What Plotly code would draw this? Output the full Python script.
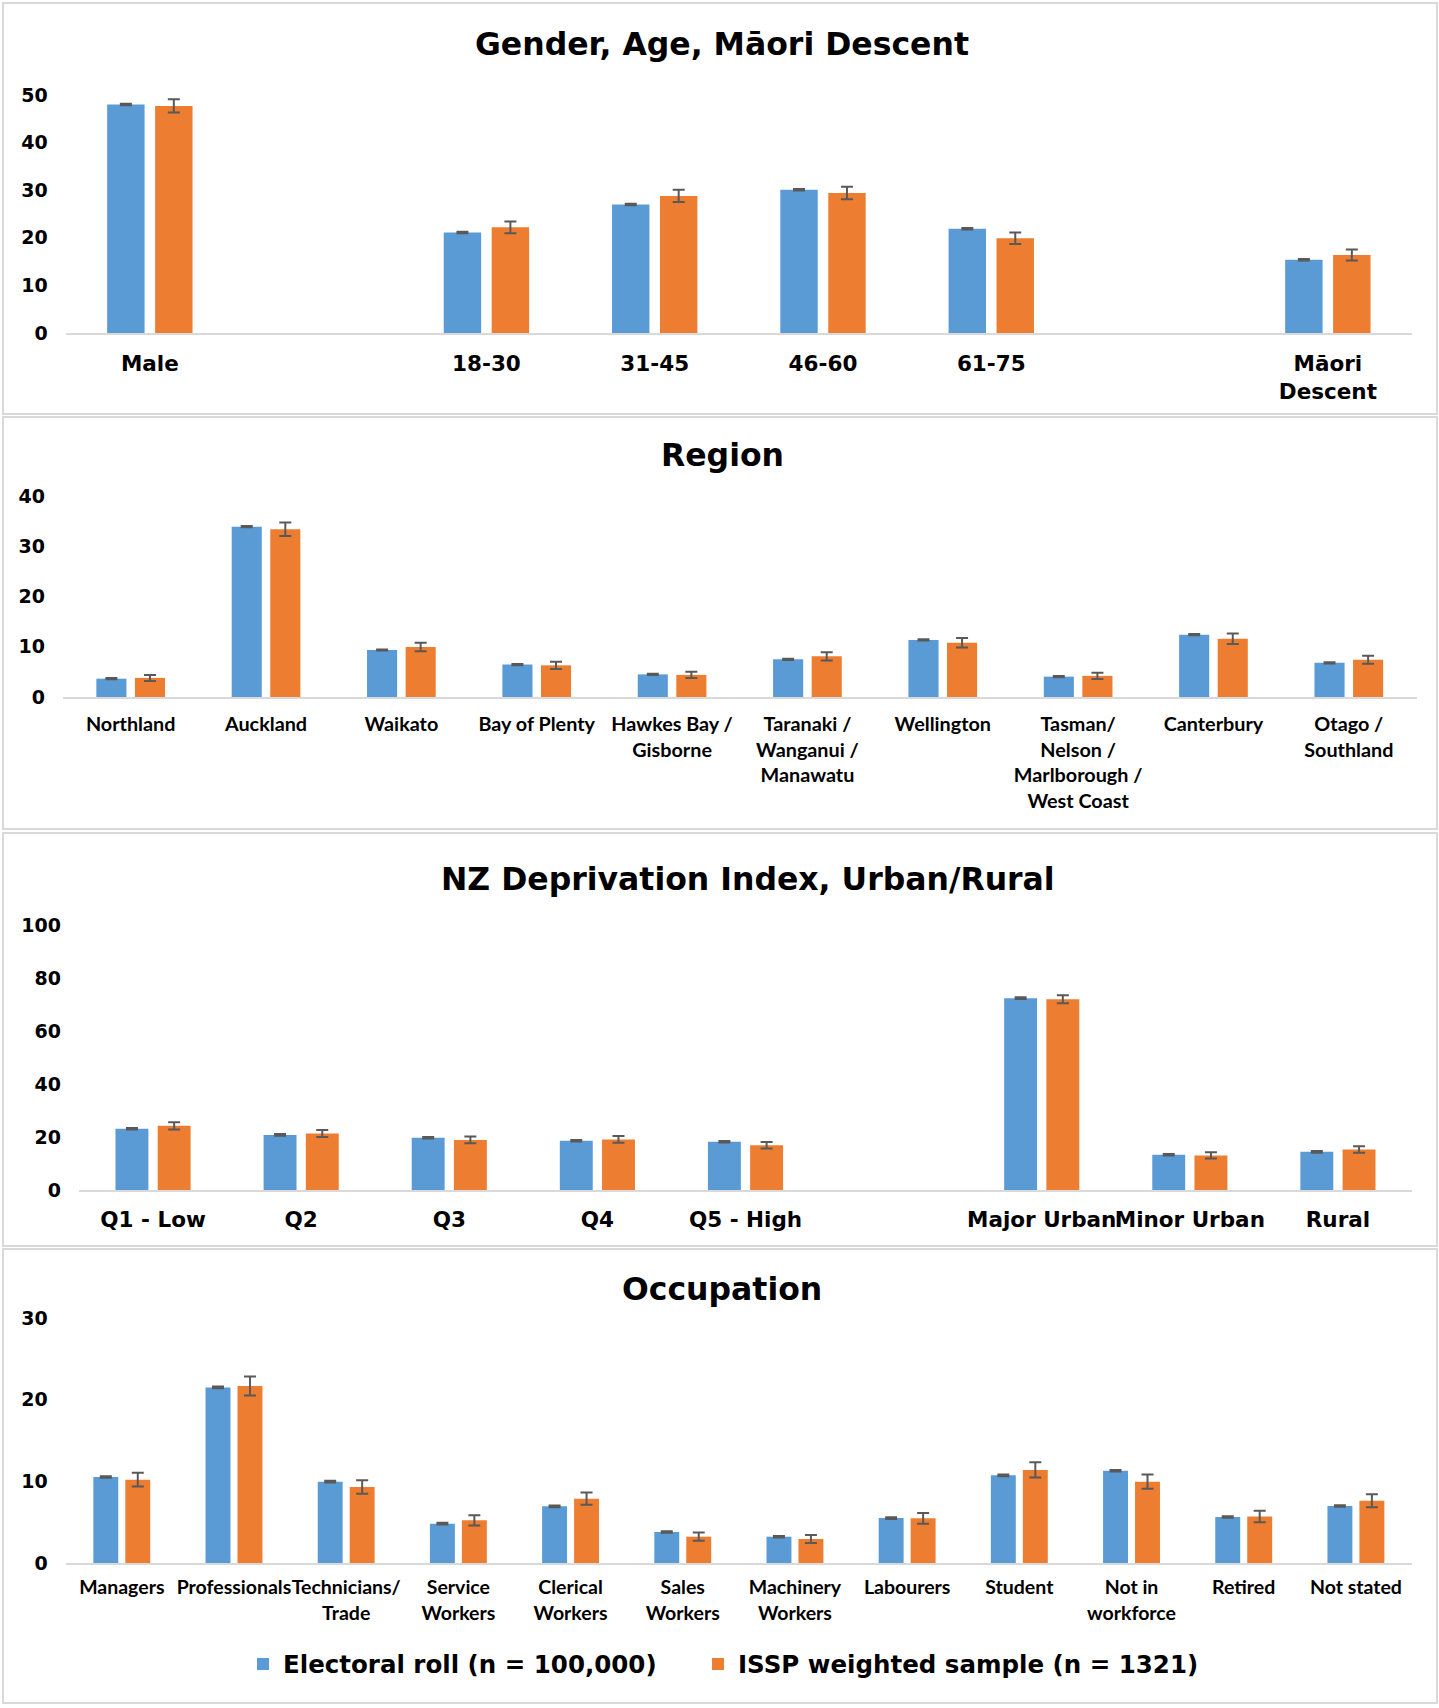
import plotly.graph_objects as go

BLUE = "#5B9BD5"
ORANGE = "#ED7D31"
ERR = "#595959"

# ---------------- data ----------------
p1_cats = ["Male", " ", "18-30", "31-45", "46-60", "61-75", "  ", "Māori<br>Descent"]
p1_roll = [48.0, None, 21.1, 27.0, 30.1, 21.9, None, 15.4]
p1_roll_err = [0.15, None, 0.15, 0.15, 0.15, 0.15, None, 0.15]
p1_issp = [47.7, None, 22.2, 28.8, 29.4, 19.9, None, 16.4]
p1_issp_err = [1.4, None, 1.25, 1.3, 1.3, 1.2, None, 1.15]

p2_cats = ["Northland", "Auckland", "Waikato", "Bay of Plenty", "Hawkes Bay /<br>Gisborne",
           "Taranaki /<br>Wanganui /<br>Manawatu", "Wellington",
           "Tasman/<br>Nelson /<br>Marlborough /<br>West Coast", "Canterbury", "Otago /<br>Southland"]
p2_roll = [3.65, 33.9, 9.35, 6.45, 4.5, 7.5, 11.35, 4.05, 12.4, 6.8]
p2_roll_err = [0.12] * 10
p2_issp = [3.8, 33.4, 9.95, 6.3, 4.4, 8.1, 10.8, 4.2, 11.6, 7.4]
p2_issp_err = [0.6, 1.35, 0.85, 0.73, 0.63, 0.83, 0.96, 0.63, 1.03, 0.8]

p3_cats = ["Q1 - Low", "Q2", "Q3", "Q4", "Q5 - High", " ", "Major Urban", "Minor Urban", "Rural"]
p3_roll = [23.1, 20.8, 19.7, 18.6, 18.2, None, 72.4, 13.3, 14.4]
p3_roll_err = [0.3, 0.3, 0.3, 0.3, 0.3, None, 0.3, 0.3, 0.3]
p3_issp = [24.2, 21.3, 18.9, 19.1, 16.9, None, 72.0, 13.05, 15.3]
p3_issp_err = [1.4, 1.3, 1.3, 1.3, 1.25, None, 1.5, 1.2, 1.25]

p4_cats = ["Managers", "Professionals", "Technicians/<br>Trade", "Service<br>Workers",
           "Clerical<br>Workers", "Sales<br>Workers", "Machinery<br>Workers", "Labourers",
           "Student", "Not in<br>workforce", "Retired", "Not stated"]
p4_roll = [10.53, 21.5, 9.96, 4.82, 6.94, 3.8, 3.22, 5.5, 10.73, 11.3, 5.63, 6.98]
p4_roll_err = [0.1] * 12
p4_issp = [10.2, 21.67, 9.3, 5.22, 7.88, 3.22, 2.94, 5.47, 11.4, 9.96, 5.7, 7.63]
p4_issp_err = [0.84, 1.16, 0.82, 0.63, 0.76, 0.5, 0.5, 0.65, 0.94, 0.88, 0.7, 0.8]

series_names = ["Electoral roll (n = 100,000)", "ISSP weighted sample (n = 1321)"]
legend_widths = [410, 500]
titles = ["Gender, Age, Māori Descent", "Region", "NZ Deprivation Index, Urban/Rural", "Occupation"]

# ---------------- layout geometry (pixels) ----------------
W, H = 1439, 1708
panels = [
    dict(cats=p1_cats, roll=p1_roll, rerr=p1_roll_err, issp=p1_issp, ierr=p1_issp_err,
         yr=[0, 50], dt=10, ypx=(333, 95), xpx=(65.7, 1412), font="DejaVu Sans", fs=21.5, sd=10,
         box=(3, 414), title_y=44, title_x=722),
    dict(cats=p2_cats, roll=p2_roll, rerr=p2_roll_err, issp=p2_issp, ierr=p2_issp_err,
         yr=[0, 40], dt=10, ypx=(697, 496), xpx=(63, 1416.5), font="Lato", fs=19.8, sd=8,
         box=(417, 829), title_y=455, title_x=722),
    dict(cats=p3_cats, roll=p3_roll, rerr=p3_roll_err, issp=p3_issp, ierr=p3_issp_err,
         yr=[0, 100], dt=20, ypx=(1190, 925), xpx=(79, 1412), font="DejaVu Sans", fs=21.5, sd=9,
         box=(833, 1246), title_y=879, title_x=748),
    dict(cats=p4_cats, roll=p4_roll, rerr=p4_roll_err, issp=p4_issp, ierr=p4_issp_err,
         yr=[0, 30], dt=10, ypx=(1563, 1318), xpx=(65.7, 1412), font="Lato", fs=19.5, sd=6,
         box=(1249, 1703), title_y=1289, title_x=722),
]

fig = go.Figure()
shapes = []
annotations = []
for i, p in enumerate(panels):
    n = i + 1
    xa = "x" if n == 1 else f"x{n}"
    ya = "y" if n == 1 else f"y{n}"
    for k, (vals, errs, col) in enumerate([(p["roll"], p["rerr"], BLUE), (p["issp"], p["ierr"], ORANGE)]):
        fig.add_trace(go.Bar(
            x=p["cats"], y=vals, name=series_names[k], xaxis=xa, yaxis=ya,
            marker=dict(color=col, line=dict(width=0)),
            error_y=dict(type="data", array=errs, visible=True, color=ERR, thickness=2, width=6),
            showlegend=(i == 0), offsetgroup=str(k), legendwidth=legend_widths[k],
        ))
    xkey = "xaxis" if n == 1 else f"xaxis{n}"
    ykey = "yaxis" if n == 1 else f"yaxis{n}"
    fig.update_layout({
        xkey: dict(domain=[p["xpx"][0] / W, p["xpx"][1] / W], anchor=ya, type="category",
                   categoryorder="array", categoryarray=p["cats"], automargin=False,
                   range=[-0.5, len(p["cats"]) - 0.5], showline=True, linecolor="#D9D9D9",
                   linewidth=2, ticks="", showgrid=False, zeroline=False,
                   tickfont=dict(family=p["font"], size=p["fs"], color="black", weight="bold"),
                   ticklabelstandoff=p["sd"], tickangle=0, fixedrange=True),
        ykey: dict(domain=[1 - p["ypx"][0] / H, 1 - p["ypx"][1] / H], anchor=xa,
                   range=p["yr"], dtick=p["dt"], tick0=0, showline=False, showgrid=False,
                   zeroline=False, ticks="", automargin=False,
                   tickfont=dict(family="DejaVu Sans", size=19, color="black", weight="bold"),
                   ticklabelstandoff=17, fixedrange=True),
    })
    shapes.append(dict(type="rect", xref="paper", yref="paper",
                       x0=3 / W, x1=1437 / W, y0=1 - p["box"][1] / H, y1=1 - p["box"][0] / H,
                       line=dict(color="#D9D9D9", width=2), fillcolor="rgba(0,0,0,0)", layer="below"))
    annotations.append(dict(text=titles[i], xref="paper", yref="paper", x=p["title_x"] / W,
                            y=1 - p["title_y"] / H, xanchor="center", yanchor="middle",
                            showarrow=False,
                            font=dict(family="DejaVu Sans", size=31.5, color="black", weight="bold")))

fig.update_layout(
    width=W, height=H, margin=dict(l=0, r=0, t=0, b=0, autoexpand=False),
    paper_bgcolor="white", plot_bgcolor="white",
    barmode="group", bargap=0.43, bargroupgap=0.22,
    shapes=shapes, annotations=annotations,
    legend=dict(orientation="h", x=243 / W, xanchor="left", y=1 - 1664 / H, yanchor="middle",
                font=dict(family="DejaVu Sans", size=24.5, color="black", weight="bold"),
                itemwidth=30, bgcolor="rgba(0,0,0,0)", traceorder="normal"),
)

post = ("document.body.style.margin='0';document.body.style.overflow='hidden';"
        "var d=document.getElementById('{plot_id}');d.style.position='absolute';"
        "d.style.left='0px';d.style.top='0px';")
fig.write_html("out.html", post_script=post, config={"displayModeBar": False})
